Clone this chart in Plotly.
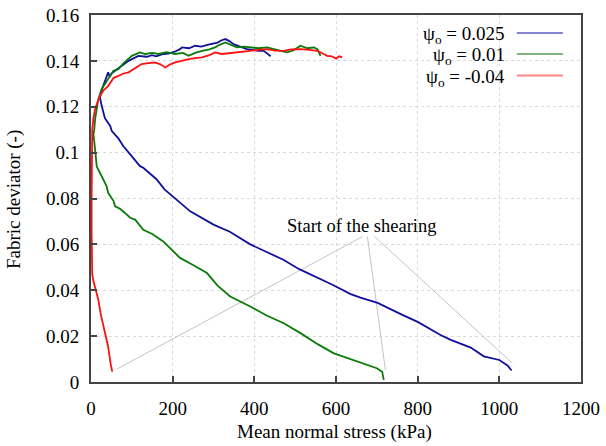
import plotly.graph_objects as go

# ---- data ----
blue_p = [1030, 1020, 1000, 962, 930, 881, 856, 800, 760, 702, 660, 636, 590, 555, 510, 471, 430, 390, 340, 300,
          243, 210, 180, 161, 140, 128, 120, 100, 92, 79, 67, 51, 47, 34, 26, 22, 24, 30, 36, 42, 46, 50, 59, 75,
          92, 116, 137, 149, 160, 177, 190, 205, 218, 223, 240, 255, 270, 285, 296, 310, 320, 329, 340, 349, 365,
          382, 395, 410, 423, 435, 440]
blue_q = [0.0050, 0.0072, 0.0096, 0.0112, 0.0150, 0.0184, 0.0205, 0.0262, 0.0295, 0.0345, 0.0368, 0.0383, 0.0425,
          0.0455, 0.0492, 0.0533, 0.0566, 0.0600, 0.0655, 0.0686, 0.0744, 0.0796, 0.0840, 0.0883, 0.0915, 0.0934,
          0.0941, 0.0985, 0.1000, 0.1029, 0.1062, 0.1094, 0.1116, 0.1150, 0.1205, 0.1240, 0.1262, 0.1290, 0.1320,
          0.1350, 0.1330, 0.1345, 0.1357, 0.1378, 0.1400, 0.1422, 0.1418, 0.1425, 0.1420, 0.1430, 0.1432, 0.1440,
          0.1451, 0.1459, 0.1455, 0.1466, 0.1462, 0.1470, 0.1473, 0.1480, 0.1490, 0.1495, 0.1485, 0.1473, 0.1462,
          0.1451, 0.1448, 0.1444, 0.1444, 0.1425, 0.1420]

green_p = [717, 713, 700, 677, 640, 595, 555, 513, 472, 430, 390, 341, 310, 284, 250, 218, 190, 177, 150, 137, 128,
           108, 96, 83, 71, 59, 55, 42, 38, 30, 18, 14, 10, 8, 6, 8, 10, 14, 18, 26, 34, 42, 55, 67, 80, 100, 120,
           133, 150, 165, 185, 206, 225, 239, 255, 272, 290, 304, 315, 329, 345, 357, 375, 390, 410, 431, 450, 480,
           495, 513, 530, 546, 555, 560, 562]
green_q = [0.0009, 0.0045, 0.0060, 0.0074, 0.0098, 0.0125, 0.0165, 0.0213, 0.0256, 0.0290, 0.0329, 0.0373, 0.0420,
           0.0475, 0.0510, 0.0541, 0.0590, 0.0613, 0.0645, 0.0657, 0.0664, 0.0708, 0.0716, 0.0737, 0.0755, 0.0766,
           0.0790, 0.0825, 0.0854, 0.0883, 0.0927, 0.0940, 0.1014, 0.1040, 0.1080, 0.1100, 0.1145, 0.1190, 0.1233,
           0.1277, 0.1300, 0.1320, 0.1357, 0.1364, 0.1390, 0.1422, 0.1437, 0.1430, 0.1435, 0.1430, 0.1438, 0.1430,
           0.1435, 0.1422, 0.1435, 0.1444, 0.1450, 0.1459, 0.1470, 0.1480, 0.1468, 0.1459, 0.1462, 0.1459, 0.1455,
           0.1459, 0.1450, 0.1437, 0.1445, 0.1466, 0.1455, 0.1459, 0.1450, 0.1430, 0.1422]

red_p = [52, 48, 42, 36, 30, 24, 18, 14, 10, 6, 3, 2, 1.5, 1.5, 2, 2, 3, 6, 10, 16, 22, 30, 42, 55, 67, 80, 92, 108,
         124, 140, 157, 170, 182, 194, 206, 222, 239, 255, 272, 290, 304, 320, 349, 370, 390, 410, 431, 450, 472,
         490, 513, 535, 554, 570, 578, 590, 600, 608, 615]
red_q = [0.0045, 0.0080, 0.0154, 0.0200, 0.0256, 0.0295, 0.0358, 0.0385, 0.0410, 0.0440, 0.0470, 0.0540, 0.0650,
         0.0800, 0.0897, 0.1014, 0.1100, 0.1150, 0.1189, 0.1220, 0.1247, 0.1270, 0.1290, 0.1325, 0.1335, 0.1345,
         0.1350, 0.1370, 0.1386, 0.1390, 0.1393, 0.1385, 0.1371, 0.1385, 0.1393, 0.1400, 0.1408, 0.1412, 0.1415,
         0.1425, 0.1437, 0.1430, 0.1437, 0.1440, 0.1444, 0.1448, 0.1451, 0.1445, 0.1444, 0.1450, 0.1451, 0.1448,
         0.1444, 0.1430, 0.1422, 0.1420, 0.1410, 0.1420, 0.1415]

series_names = ["ψ<sub>o</sub> = 0.025", "ψ<sub>o</sub> = 0.01", "ψ<sub>o</sub> = -0.04"]
series_colors = ["#10109a", "#0a7a0a", "#ff1010"]
legend_colors = ["#8585cf", "#80b580", "#ff8585"]

# annotation "Start of the shearing" connector lines (data coordinates)
ann_text = "Start of the shearing"
ann_pos = (663, 0.0682)
conn_start_p = [665, 677, 694]
conn_start_q = [0.0634, 0.0633, 0.0635]
conn_end_p = [63, 721, 1032]
conn_end_q = [0.0056, 0.0052, 0.0082]

x_ticks = [0, 200, 400, 600, 800, 1000, 1200]
y_ticks = [0, 0.02, 0.04, 0.06, 0.08, 0.1, 0.12, 0.14, 0.16]
x_title = "Mean normal stress (kPa)"
y_title = "Fabric deviator (-)"

FONT = "Liberation Serif, Times New Roman, serif"

fig = go.Figure()

for sp, sq, ep, eq in zip(conn_start_p, conn_start_q, conn_end_p, conn_end_q):
    fig.add_trace(go.Scatter(x=[sp, ep], y=[sq, eq], mode="lines",
                             line=dict(color="#c4c4c4", width=1), showlegend=False, hoverinfo="skip"))

for p, q, name, col in zip([blue_p, green_p, red_p], [blue_q, green_q, red_q], series_names, series_colors):
    fig.add_trace(go.Scatter(x=p, y=q, mode="lines", name=name,
                             line=dict(color=col, width=1.8), showlegend=False))

fig.add_annotation(x=ann_pos[0], y=ann_pos[1], text=ann_text, showarrow=False,
                   font=dict(family=FONT, size=18.5, color="black"), xanchor="center", yanchor="middle")

# axis titles
fig.add_annotation(xref="paper", yref="paper", x=0.497, y=-0.136, text=x_title, showarrow=False,
                   xanchor="center", yanchor="middle", font=dict(family=FONT, size=19, color="black"))
fig.add_annotation(xref="paper", yref="paper", x=-0.157, y=0.496, text=y_title, showarrow=False, textangle=-90,
                   xanchor="center", yanchor="middle", font=dict(family=FONT, size=19, color="black"))

# custom legend (text right-aligned, sample line on the right)
leg_y = [0.951, 0.894, 0.835]
for yy, name, col in zip(leg_y, series_names, legend_colors):
    fig.add_annotation(xref="paper", yref="paper", x=0.849, y=yy - 0.006, text=name, showarrow=False,
                       xanchor="right", yanchor="middle", font=dict(family=FONT, size=19, color="black"))
    fig.add_shape(type="line", xref="paper", yref="paper", x0=0.869, x1=0.963, y0=yy, y1=yy,
                  line=dict(color=col, width=2))

fig.update_layout(
    width=606, height=446,
    margin=dict(l=91, r=25, t=15, b=64, autoexpand=False),
    paper_bgcolor="white", plot_bgcolor="white",
    font=dict(family=FONT, size=19, color="black"),
    xaxis=dict(range=[0, 1200], tickvals=x_ticks, ticks="inside", ticklen=6, tickwidth=2,
               tickcolor="#444444", showline=True, linecolor="#444444", linewidth=2, mirror=True,
               showgrid=True, gridcolor="#dadada", griddash="dot", gridwidth=1, zeroline=False,
               ticklabelstandoff=8, automargin=False),
    yaxis=dict(range=[0, 0.16], tickvals=y_ticks, ticks="inside", ticklen=6, tickwidth=2,
               tickcolor="#444444", showline=True, linecolor="#444444", linewidth=2, mirror=True,
               showgrid=True, gridcolor="#dadada", griddash="dot", gridwidth=1, zeroline=False,
               ticklabelstandoff=6, automargin=False),
)

fig.write_html("out.html")
